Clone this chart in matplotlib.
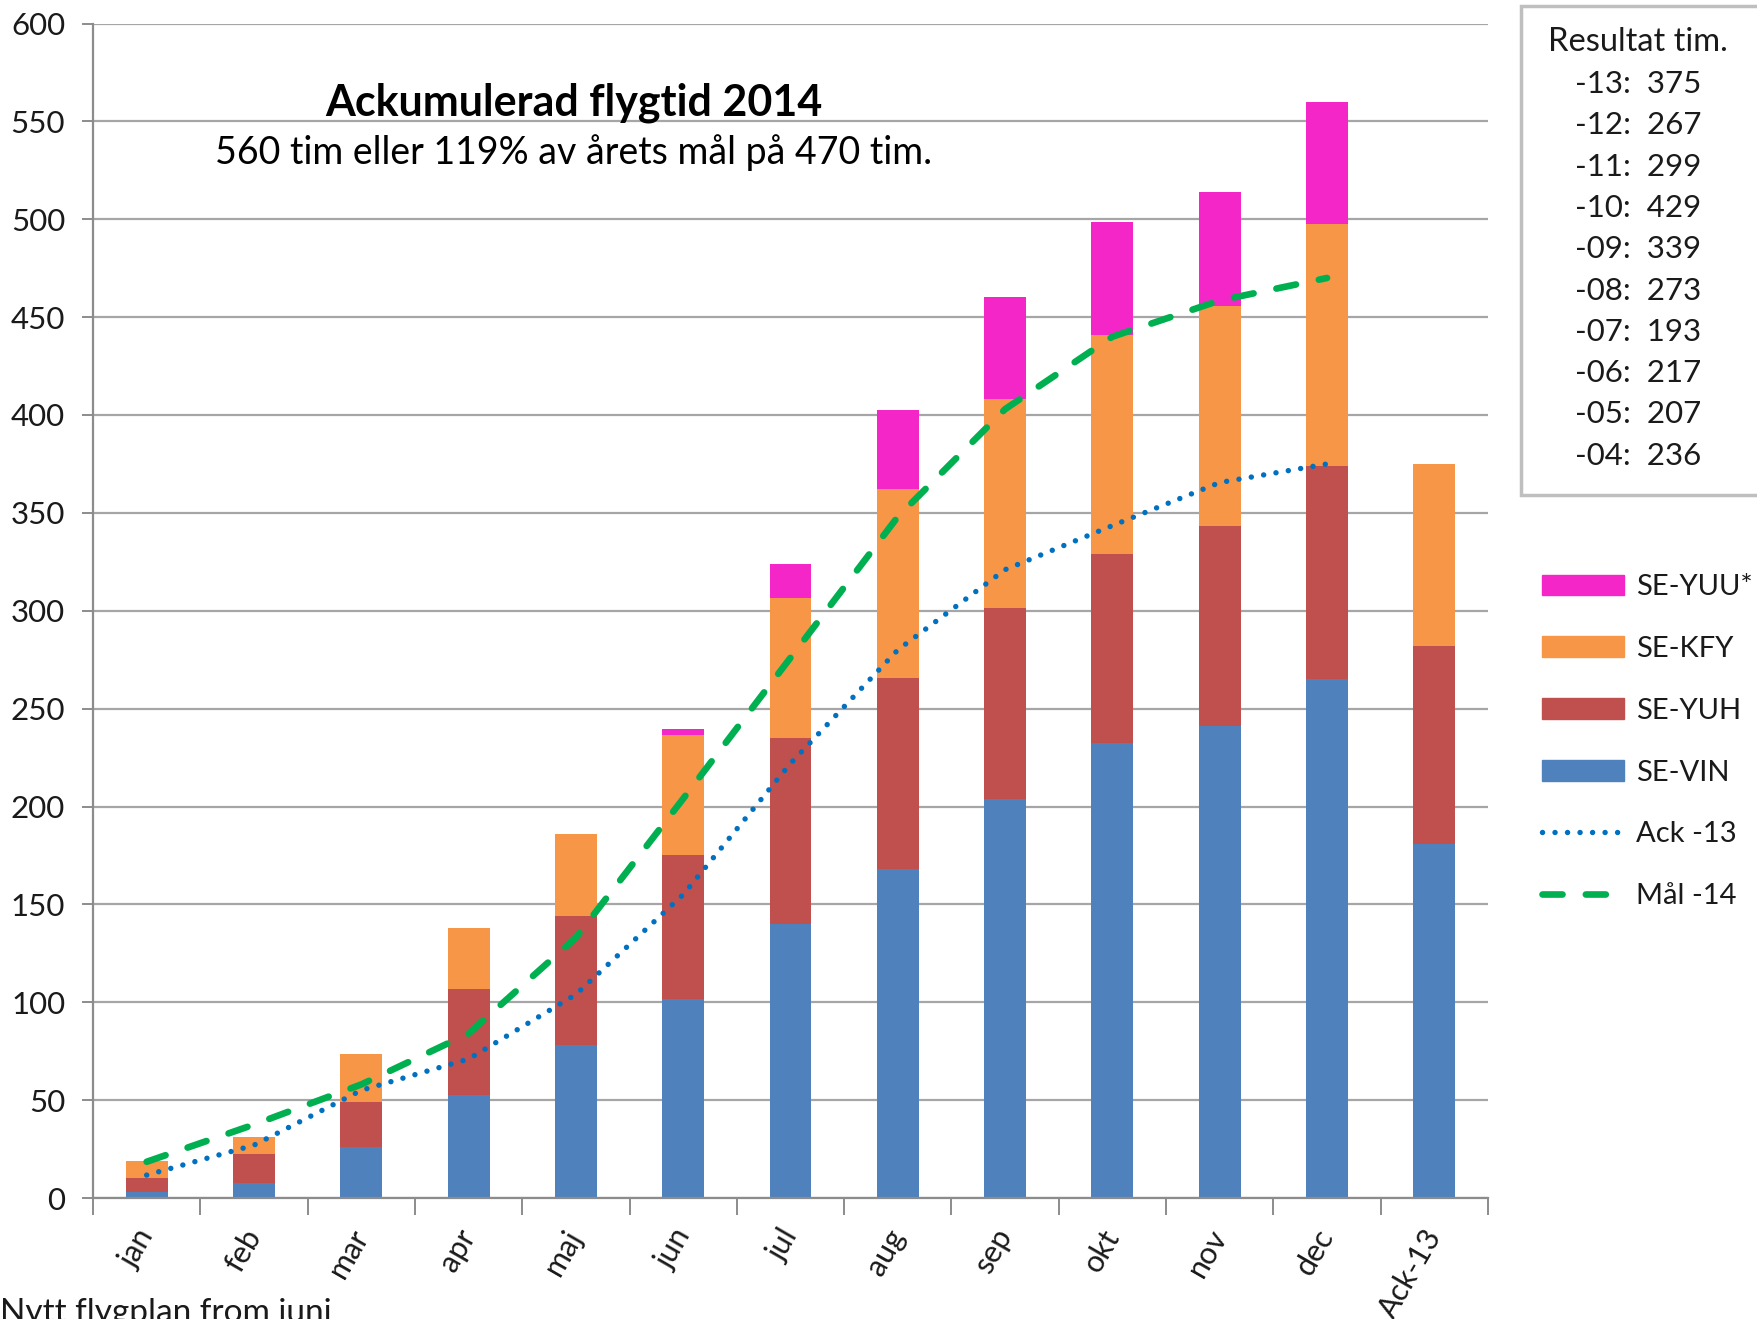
"""
Ackumulerad flygtid 2014 - stacked bars per aircraft with goal and last year's curve.
"""
import matplotlib
matplotlib.use("Agg")
import numpy as np
import matplotlib.pyplot as plt
from matplotlib.patches import Rectangle, Patch
from matplotlib.lines import Line2D

plt.rcParams['font.family'] = ['Lato', 'DejaVu Sans']

# Categories (12 months + last year's total)
months = ['jan', 'feb', 'mar', 'apr', 'maj', 'jun', 'jul',
          'aug', 'sep', 'okt', 'nov', 'dec', 'Ack-13']

# Accumulated hours per aircraft (stacked segments)
se_vin = [3.2, 7.5, 26.0, 52.6, 78.1, 101.5, 140.0, 168.3, 204.0, 232.3, 241.3, 265.0, 181.0]
se_yuh = [6.8, 14.9, 23.0, 54.0, 65.9, 73.5, 95.0, 97.4, 97.4, 96.7, 101.9, 109.2, 101.0]
se_kfy = [9.0, 8.6, 24.5, 31.5, 41.7, 61.6, 71.5, 96.3, 106.6, 112.0, 112.6, 123.3, 93.0]
se_yuu = [0.0, 0.0, 0.0, 0.0, 0.0, 3.0, 17.5, 40.4, 52.5, 57.5, 58.0, 62.5, 0.0]

# Lines, one value per month
ack_13 = [11.7, 27.0, 55.0, 71.0, 104.0, 155.0, 222.0, 280.0, 321.0, 343.5, 365.5, 375.0]
mal_14 = [18.5, 37.5, 58.0, 84.0, 133.0, 204.0, 276.0, 348.0, 403.0, 440.0, 458.5, 470.0]

# Results box
result_years = ['-13', '-12', '-11', '-10', '-09', '-08', '-07', '-06', '-05', '-04']
result_hours = [375, 267, 299, 429, 339, 273, 193, 217, 207, 236]

C_VIN = '#4F81BD'
C_YUH = '#C0504D'
C_KFY = '#F79646'
C_YUU = '#F526C8'
C_ACK = '#0070C0'
C_MAL = '#00B050'
C_GRID = '#A6A6A6'
C_TEXT = '#1a1a1a'

W, H = 1757, 1319
fig = plt.figure(figsize=(W / 100, H / 100), dpi=100)
ax = fig.add_axes([93 / W, 1 - 1198 / H, (1488 - 93) / W, (1198 - 23.5) / H])

x = np.arange(len(months))
bw = 0.39
b1 = np.array(se_vin)
b2 = b1 + np.array(se_yuh)
b3 = b2 + np.array(se_kfy)
ax.bar(x, se_vin, bw, color=C_VIN, zorder=2)
ax.bar(x, se_yuh, bw, bottom=b1, color=C_YUH, zorder=2)
ax.bar(x, se_kfy, bw, bottom=b2, color=C_KFY, zorder=2)
ax.bar(x, se_yuu, bw, bottom=b3, color=C_YUU, zorder=2)

dot_style = dict(color=C_ACK, lw=3.9, linestyle=(0, (0.01, 2.3)),
                 dash_capstyle='round')
dash_style = dict(color=C_MAL, lw=4.8, linestyle=(0, (3.0, 3.5)),
                  dash_capstyle='round')
xm = np.arange(len(ack_13))
ax.plot(xm, ack_13, zorder=3, **dot_style)
ax.plot(xm, mal_14, zorder=4, **dash_style)

ax.set_xlim(-0.5, len(months) - 0.5)
ax.set_ylim(0, 600)
ax.set_yticks(np.arange(0, 601, 50))
ax.grid(axis='y', color=C_GRID, lw=1.6, zorder=0)
ax.set_axisbelow(True)

for s in ['top', 'right']:
    ax.spines[s].set_visible(False)
for s in ['left', 'bottom']:
    ax.spines[s].set_color('#8c8c8c')
    ax.spines[s].set_linewidth(1.6)

ax.tick_params(axis='y', length=8, width=1.4, color='#8c8c8c', pad=12,
               labelsize=22.5, labelcolor=C_TEXT)
# boundaries between categories carry the tick marks
ax.set_xticks(np.arange(-0.5, len(months)), minor=True)
ax.set_xticks(x)
ax.set_xticklabels(months, rotation=60, ha='right', va='center',
                   rotation_mode='anchor', fontsize=22, color=C_TEXT)
ax.tick_params(axis='x', which='major', length=0, pad=24)
ax.tick_params(axis='x', which='minor', length=12, width=1.4, color='#8c8c8c')

# titles inside the plot
fig.text(574 / W, 1 - 103 / H, 'Ackumulerad flygtid 2014', ha='center',
         va='center', fontsize=31, fontweight='bold', color='black')
fig.text(574 / W, 1 - 153 / H, '560 tim eller 119% av årets mål på 470 tim.',
         ha='center', va='center', fontsize=27, color='black')

# results box
fig.patches.append(Rectangle((1521 / W, 1 - 495 / H), 0.2, (495 - 6) / H,
                             transform=fig.transFigure, facecolor='white',
                             edgecolor='#BFBFBF', lw=2.5, zorder=1))
fig.text(1638 / W, 1 - 42 / H, 'Resultat tim.', ha='center', va='center',
         fontsize=23.5, color=C_TEXT)
for i, (yr, hrs) in enumerate(zip(result_years, result_hours)):
    fig.text(1638 / W, 1 - (84 + 41.3 * i) / H, f'{yr}:  {hrs}', ha='center',
             va='center', fontsize=22.5, color=C_TEXT)

# legend
handles = [Patch(color=C_YUU), Patch(color=C_KFY), Patch(color=C_YUH),
           Patch(color=C_VIN),
           Line2D([], [], **dot_style),
           Line2D([], [], **dash_style)]
labels = ['SE-YUU*', 'SE-KFY', 'SE-YUH', 'SE-VIN', 'Ack -13', 'Mål -14']
fig.legend(handles, labels, loc='upper left',
           bbox_to_anchor=(1542 / W, 1 - 574 / H), frameon=False,
           fontsize=21, handlelength=2.8, handleheight=0.7,
           labelspacing=1.23, handletextpad=0.42, borderpad=0,
           borderaxespad=0, labelcolor=C_TEXT)

# footnote, partly cut by the lower edge
fig.text(0 / W, 1 - 1298 / H, 'Nytt flygplan from juni', ha='left', va='top',
         fontsize=24, color=C_TEXT)

fig.savefig('out.png', dpi=100, facecolor='white')
